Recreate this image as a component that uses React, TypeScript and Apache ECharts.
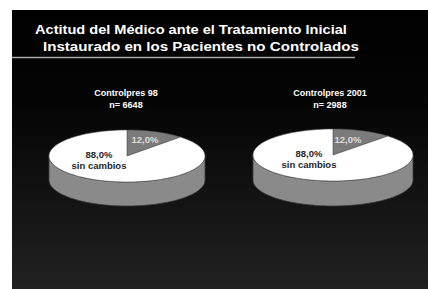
import React, { useEffect, useRef } from "react";
import * as echarts from "echarts";

// ---- data ----
const titleLines = [
  "Actitud del Médico ante el Tratamiento Inicial",
  "Instaurado en los Pacientes no Controlados",
];
const pieNames = ["Controlpres 98", "Controlpres 2001"];
const pieSizes = ["n= 6648", "n= 2988"];
const sliceNames = ["", "sin cambios"];
const conCambios = [12.0, 12.0];
const sinCambios = [88.0, 88.0];

// ---- layout (chart pixel coords) ----
const layouts = [
  { cx: 115, cy: 146, rx: 78, ry: 26, depth: 24 },
  { cx: 321, cy: 145, rx: 80, ry: 26, depth: 25 },
];
const labelOffsets = [
  [
    { dx: 18, dy: -17 },
    { dx: -28, dy: 4 },
  ],
  [
    { dx: 15, dy: -16 },
    { dx: -24, dy: 4 },
  ],
];
const titleLayout = [
  { x: 23, y: 19, scaleX: 1.08 },
  { x: 31, y: 36.5, scaleX: 1.12 },
];
const topColors = ["#7b7b7b", "#ffffff"];
const sideColors = ["#6a6a6a", "#8a8a8a"];
const labelColors = ["#dcdcdc", "#262626"];

const fmt = (v: number) => v.toFixed(1).replace(".", ",") + "%";

export default function App() {
  const ref = useRef<HTMLDivElement>(null);
  useEffect(() => {
    if (!ref.current) return;
    const chart = echarts.init(ref.current, undefined, { renderer: "svg" });

    const data: number[][] = [];
    for (let p = 0; p < pieNames.length; p++) {
      data.push([p, 0, conCambios[p], 0]);
      data.push([p, conCambios[p], sinCambios[p], 1]);
    }

    const renderItem = (params: any, api: any) => {
      const p = api.value(0);
      const start = api.value(1);
      const val = api.value(2);
      const kind = api.value(3);
      const L = layouts[p];
      const a0 = (start / 100) * 2 * Math.PI;
      const a1 = ((start + val) / 100) * 2 * Math.PI;
      const pt = (a: number, dy = 0) => [
        L.cx + L.rx * Math.sin(a),
        L.cy - L.ry * Math.cos(a) + dy,
      ];
      const N = 120;
      const children: any[] = [];
      const s0 = Math.max(a0, Math.PI / 2);
      const s1 = Math.min(a1, (3 * Math.PI) / 2);
      if (s1 > s0) {
        const upper: number[][] = [];
        const lower: number[][] = [];
        for (let i = 0; i <= N; i++) {
          const a = s0 + ((s1 - s0) * i) / N;
          upper.push(pt(a));
          lower.push(pt(a, L.depth));
        }
        children.push({
          type: "polygon",
          shape: { points: upper.concat(lower.reverse()) },
          style: { fill: sideColors[kind], stroke: "#3a3a3a", lineWidth: 0.8 },
        });
      }
      const top: number[][] = [[L.cx, L.cy]];
      for (let i = 0; i <= N; i++) {
        top.push(pt(a0 + ((a1 - a0) * i) / N));
      }
      children.push({
        type: "polygon",
        shape: { points: top },
        style: { fill: topColors[kind], stroke: "#555", lineWidth: 0.6 },
      });
      const off = labelOffsets[p][kind];
      const txt = sliceNames[kind] ? fmt(val) + "\n" + sliceNames[kind] : fmt(val);
      children.push({
        type: "text",
        x: L.cx + off.dx,
        y: L.cy + off.dy,
        style: {
          text: txt,
          fill: labelColors[kind],
          font: "bold 9.5px 'Liberation Sans', Arial, sans-serif",
          align: "center",
          verticalAlign: "middle",
          lineHeight: 11.5,
        },
      });
      return { type: "group", children };
    };

    const graphics: any[] = [];
    titleLines.forEach((t, i) => {
      const T = titleLayout[i];
      graphics.push({
        type: "text",
        x: T.x,
        y: T.y,
        scaleX: T.scaleX,
        style: {
          text: t,
          fill: "#ffffff",
          font: "bold 13.5px 'Liberation Sans', Arial, sans-serif",
          verticalAlign: "middle",
        },
      });
    });
    graphics.push({
      type: "line",
      shape: { x1: 0, y1: 47.5, x2: 343, y2: 47.5 },
      style: { stroke: "#a8a8a8", lineWidth: 1.6 },
    });
    pieNames.forEach((n, i) => {
      const L = layouts[i];
      graphics.push({
        type: "text",
        x: L.cx + (i === 0 ? -1 : -3),
        y: 88.5,
        style: {
          text: n + "\n" + pieSizes[i],
          fill: "#ffffff",
          font: "bold 9px 'Liberation Sans', Arial, sans-serif",
          align: "center",
          verticalAlign: "middle",
          lineHeight: 12,
        },
      });
    });

    chart.setOption({
      animation: false,
      backgroundColor: new echarts.graphic.LinearGradient(0, 0, 0, 1, [
        { offset: 0, color: "#000000" },
        { offset: 0.35, color: "#050505" },
        { offset: 1, color: "#212121" },
      ]),
      graphic: graphics,
      series: [
        {
          type: "custom",
          coordinateSystem: "none",
          renderItem,
          data,
          silent: true,
        },
      ],
    });
    return () => chart.dispose();
  }, []);
  return (
    <div
      ref={ref}
      style={{ position: "fixed", left: 12, top: 10, width: 416, height: 279 }}
    />
  );
}
